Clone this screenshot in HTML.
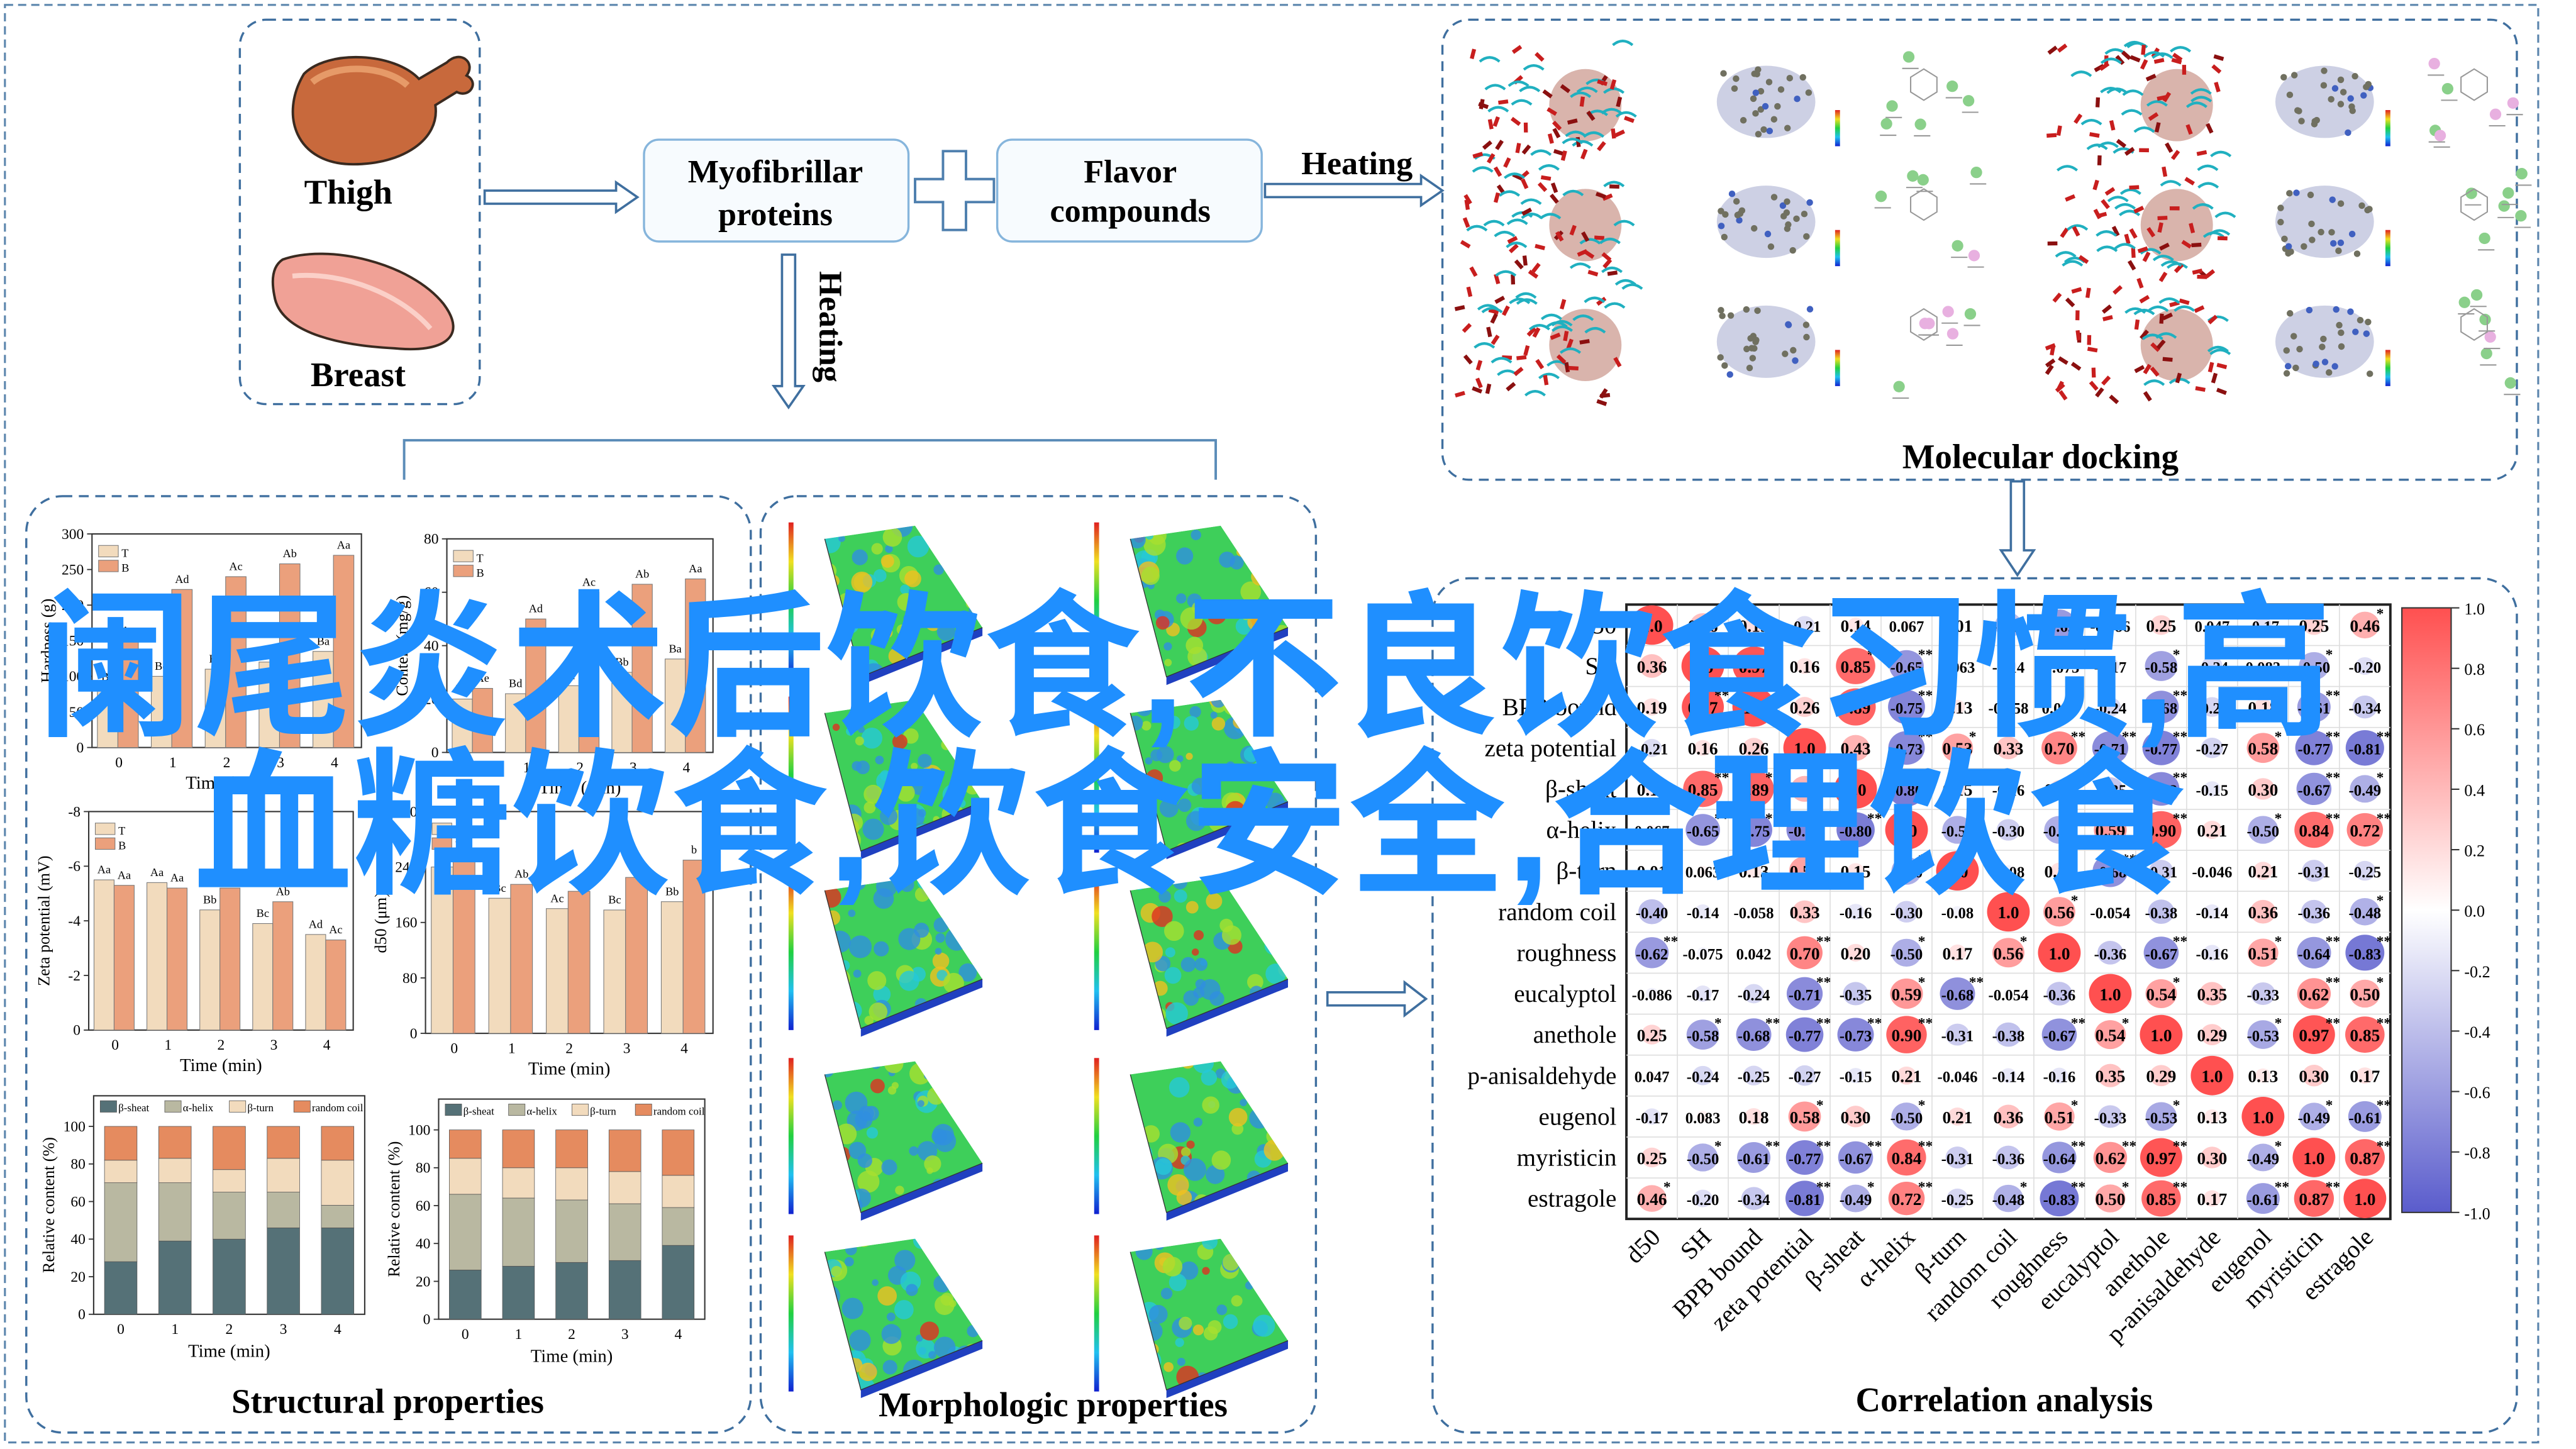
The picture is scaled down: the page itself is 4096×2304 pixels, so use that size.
<!DOCTYPE html>
<html><head><meta charset="utf-8"><style>
html,body{margin:0;padding:0;background:#fff;width:4096px;height:2304px;overflow:hidden}
svg{display:block}
text{font-family:"Liberation Serif",serif}
</style></head><body>
<svg id="s" xmlns="http://www.w3.org/2000/svg" width="4096" height="2304" viewBox="0 0 1568 882" preserveAspectRatio="none">
<defs>
<linearGradient id="cb" x1="0" y1="0" x2="0" y2="1"><stop offset="0" stop-color="#ff5050"/><stop offset="0.5" stop-color="#ffffff"/><stop offset="1" stop-color="#5a5ccc"/></linearGradient>
<linearGradient id="rb" x1="0" y1="0" x2="0" y2="1"><stop offset="0" stop-color="#e02020"/><stop offset="0.25" stop-color="#f0e020"/><stop offset="0.5" stop-color="#20d040"/><stop offset="0.75" stop-color="#20c0f0"/><stop offset="1" stop-color="#1020d0"/></linearGradient>
</defs>
<rect x="3" y="3" width="1542" height="875" fill="none" stroke="#5c86ad" stroke-width="1.2" stroke-dasharray="5,3"/>
<g fill="none" stroke="#3f6f9f" stroke-width="1.3" stroke-dasharray="6,4">
<rect x="146" y="12" width="146" height="234" rx="16"/>
<rect x="878" y="12" width="654" height="280" rx="16"/>
<rect x="16" y="302" width="441" height="570" rx="22"/>
<rect x="463" y="302" width="338" height="570" rx="22"/>
<rect x="872" y="352" width="660" height="520" rx="22"/>
</g>
<path d="M185 45 C200 30 240 32 255 48 L272 38 C280 30 290 38 284 46 C292 50 286 60 278 56 L265 64 C268 85 245 100 215 100 C180 100 170 70 185 45Z" fill="#c8693c" stroke="#3a2a20" stroke-width="1.5"/>
<path d="M190 50 C205 38 235 40 248 52" fill="none" stroke="#e69a68" stroke-width="4"/>
<text x="212" y="124" font-size="21" font-weight="bold" text-anchor="middle">Thigh</text>
<path d="M172 158 C200 148 250 160 270 185 C285 205 270 215 240 212 C200 210 170 200 167 180 C165 170 166 162 172 158Z" fill="#f0a196" stroke="#3a2a20" stroke-width="1.5"/>
<path d="M178 168 C210 165 245 180 262 200" fill="none" stroke="#fbd0c8" stroke-width="3"/>
<text x="218" y="235" font-size="21" font-weight="bold" text-anchor="middle">Breast</text>
<rect x="392" y="85" width="161" height="62" rx="9" fill="#f7fbfe" stroke="#86b5dc" stroke-width="1.3"/>
<text x="472" y="111" font-size="20" font-weight="bold" text-anchor="middle">Myofibrillar</text>
<text x="472" y="137" font-size="20" font-weight="bold" text-anchor="middle">proteins</text>
<path d="M574 92 h14 v17 h17 v14 h-17 v17 h-14 v-17 h-17 v-14 h17z" fill="#fff" stroke="#4e7fae" stroke-width="1.5"/>
<rect x="607" y="85" width="161" height="62" rx="9" fill="#f7fbfe" stroke="#86b5dc" stroke-width="1.3"/>
<text x="688" y="111" font-size="20" font-weight="bold" text-anchor="middle">Flavor</text>
<text x="688" y="135" font-size="20" font-weight="bold" text-anchor="middle">compounds</text>
<g fill="#fff" stroke="#3f6f9f" stroke-width="1.4">
<path d="M295 116 h80 v-5 l13 9 l-13 9 v-5 h-80z"/>
<path d="M770 112 h95 v-5 l13 9 l-13 9 v-5 h-95z"/>
<path d="M476 155 v80 h-5 l9 13 l9 -13 h-5 v-80z"/>
<path d="M1224 293 v42 h-6 l10 15 l10 -15 h-6 v-42z"/>
<path d="M808 604 h47 v-6 l13 10 l-13 10 v-6 h-47z"/>
</g>
<text x="826" y="106" font-size="20" font-weight="bold" text-anchor="middle">Heating</text>
<text x="0" y="0" font-size="20" font-weight="bold" transform="translate(499,165) rotate(90)">Heating</text>
<path d="M246 292 V268 H740 V292" fill="none" stroke="#5b8cb8" stroke-width="1.5"/>
<text x="1242" y="285" font-size="21" font-weight="bold" text-anchor="middle">Molecular docking</text>
<text x="236" y="860" font-size="21" font-weight="bold" text-anchor="middle">Structural properties</text>
<text x="641" y="862" font-size="21" font-weight="bold" text-anchor="middle">Morphologic properties</text>
<text x="1220" y="859" font-size="21" font-weight="bold" text-anchor="middle">Correlation analysis</text>
<rect x="1462" y="370" width="30" height="368" fill="url(#cb)" stroke="#333" stroke-width="0.8"/>
<g id="dyn"></g>
<text font-weight="bold" font-size="96" fill="#1f8fff" x="22" y="440" textLength="1398" lengthAdjust="spacingAndGlyphs" style="font-family:'Liberation Sans','Noto Sans CJK SC',sans-serif">阑尾炎术后饮食,不良饮食习惯,高</text>
<text font-weight="bold" font-size="96" fill="#1f8fff" x="118" y="536" textLength="1212" lengthAdjust="spacingAndGlyphs" style="font-family:'Liberation Sans','Noto Sans CJK SC',sans-serif">血糖饮食,饮食安全,合理饮食</text>
</svg>
<script>
(function(){
var NS="http://www.w3.org/2000/svg",G=document.getElementById("dyn");
function el(t,a,txt){var e=document.createElementNS(NS,t);for(var k in a)e.setAttribute(k,a[k]);if(txt!=null)e.textContent=txt;G.appendChild(e);return e;}
var seed=7;function rnd(){seed=(seed*16807)%2147483647;return seed/2147483647;}
for(var i=0;i<=10;i++){var v=1-i*0.2,y=370+i*36.8;el("line",{x1:1492,y1:y,x2:1497,y2:y,stroke:"#333","stroke-width":0.8});el("text",{x:1500,y:y+4,"font-size":10},(v<-0.001?"-":"")+Math.abs(v).toFixed(1));}
var L=["d50","SH","BPB bound","zeta potential","β-sheat","α-helix","β-turn","random coil","roughness","eucalyptol","anethole","p-anisaldehyde","eugenol","myristicin","estragole"];
var TP=[[1.0,0.36,0.19,-0.21,0.14,0.067,0.01],[0.36,1.0,0.97,0.16,0.85,-0.65,0.063],[0.19,0.97,1.0,0.26,0.89,-0.75,0.13],[-0.21,0.16,0.26,1.0,0.43,-0.73,0.53],[0.14,0.85,0.89,0.43,1.0,-0.80,0.15],[0.067,-0.65,-0.75,-0.73,-0.80,1.0,-0.50],[0.01,0.063,0.13,0.53,0.15,-0.50,1.0]];
var BT=[[-0.40,-0.14,-0.058,0.33,-0.16,-0.30,-0.080,1.0,0.56,-0.054,-0.38,-0.14,0.36,-0.36,-0.48],[-0.62,-0.075,0.042,0.70,0.20,-0.50,0.17,0.56,1.0,-0.36,-0.67,-0.16,0.51,-0.64,-0.83],[-0.086,-0.17,-0.24,-0.71,-0.35,0.59,-0.68,-0.054,-0.36,1.0,0.54,0.35,-0.33,0.62,0.50],[0.25,-0.58,-0.68,-0.77,-0.73,0.90,-0.31,-0.38,-0.67,0.54,1.0,0.29,-0.53,0.97,0.85],[0.047,-0.24,-0.25,-0.27,-0.15,0.21,-0.046,-0.14,-0.16,0.35,0.29,1.0,0.13,0.30,0.17],[-0.17,0.083,0.18,0.58,0.30,-0.50,0.21,0.36,0.51,-0.33,-0.53,0.13,1.0,-0.49,-0.61],[0.25,-0.50,-0.61,-0.77,-0.67,0.84,-0.31,-0.36,-0.64,0.62,0.97,0.30,-0.49,1.0,0.87],[0.46,-0.20,-0.34,-0.81,-0.49,0.72,-0.25,-0.48,-0.83,0.50,0.85,0.17,-0.61,0.87,1.0]];
var M=[];for(var r=0;r<15;r++){M[r]=[];for(var c=0;c<15;c++){var v;if(r>=7)v=BT[r-7][c];else if(c>=7)v=BT[c-7][r];else v=TP[r][c];M[r][c]=v;}}
var X0=990,Y0=368,CW=31,CH=24.93;
el("rect",{x:X0,y:Y0,width:CW*15,height:CH*15,fill:"#fff",stroke:"#222","stroke-width":1.5});
for(var i=1;i<15;i++){el("line",{x1:X0+i*CW,y1:Y0,x2:X0+i*CW,y2:Y0+15*CH,stroke:"#ddd","stroke-width":0.6});el("line",{x1:X0,y1:Y0+i*CH,x2:X0+15*CW,y2:Y0+i*CH,stroke:"#ddd","stroke-width":0.6});}
function col(v){var a=Math.abs(v);if(v>=0){return "rgb(255,"+Math.round(255-175*a)+","+Math.round(255-175*a)+")";}return "rgb("+Math.round(255-165*a)+","+Math.round(255-163*a)+","+Math.round(255-51*a)+")";}
function fmt(v){var a=Math.abs(v);if(a==1)return "1.0";var dec=(String(a).split(".")[1]||"").length>2?3:2;return (v<0?"-":"")+a.toFixed(dec);}
for(var r=0;r<15;r++){var cy=Y0+r*CH+CH/2;el("text",{x:X0-6,y:cy+5,"font-size":15,"text-anchor":"end"},L[r]);
 for(var c=0;c<15;c++){var v=M[r][c],cx=X0+c*CW+CW/2,a=Math.abs(v);
  if(a>0.03)el("ellipse",{cx:cx,cy:cy,rx:13*Math.sqrt(a),ry:12*Math.sqrt(a),fill:col(v)});
  var s=fmt(v);el("text",{x:cx,y:cy+4,"font-size":s.length>4?9.5:10.5,"font-weight":"bold","text-anchor":"middle"},s);
  if(a>=0.45&&r!=c)el("text",{x:cx+7,y:cy-4,"font-size":9,"font-weight":"bold"},a>=0.6?"**":"*");}}
for(var c=0;c<15;c++){var cx=X0+c*CW+CW/2+6;el("text",{x:0,y:0,"font-size":15,"text-anchor":"end",transform:"translate("+cx+",754) rotate(-45)"},L[c]);}
function axes(x0,y0,x1,y1,ticks,ylab){el("rect",{x:x0,y:y0,width:x1-x0,height:y1-y0,fill:"none",stroke:"#333","stroke-width":0.8});
 for(var i=0;i<ticks.length;i++){var y=y1-(y1-y0)*i/(ticks.length-1);el("line",{x1:x0-3,y1:y,x2:x0,y2:y,stroke:"#333","stroke-width":0.7});el("text",{x:x0-5,y:y+3,"font-size":9,"text-anchor":"end"},ticks[i]);}
 for(var g=0;g<5;g++){var cx=x0+(x1-x0)*(g+0.5)/5;el("text",{x:cx,y:y1+12,"font-size":9,"text-anchor":"middle"},g);}
 el("text",{x:(x0+x1)/2,y:y1+25,"font-size":11,"text-anchor":"middle"},"Time (min)");
 el("text",{x:0,y:0,"font-size":10,"text-anchor":"middle",transform:"translate("+(x0-24)+","+((y0+y1)/2)+") rotate(-90)"},ylab);}
function bars(x0,y0,x1,y1,max,T,B,ticks,ylab,lt,lb){axes(x0,y0,x1,y1,ticks,ylab);var gw=(x1-x0)/5;
 for(var g=0;g<5;g++){var bx=x0+g*gw+gw*0.1,bw=gw*0.38;var h1=(y1-y0)*T[g]/max,h2=(y1-y0)*B[g]/max;
  el("rect",{x:bx,y:y1-h1,width:bw,height:h1,fill:"#f2dbbd",stroke:"#777","stroke-width":0.4});
  el("rect",{x:bx+bw,y:y1-h2,width:bw,height:h2,fill:"#eba07c",stroke:"#777","stroke-width":0.4});
  el("text",{x:bx+bw/2,y:y1-h1-4,"font-size":7,"text-anchor":"middle"},lt[g]);el("text",{x:bx+bw*1.5,y:y1-h2-4,"font-size":7,"text-anchor":"middle"},lb[g]);}
 el("rect",{x:x0+4,y:y0+7,width:12,height:7,fill:"#f2dbbd",stroke:"#777","stroke-width":0.4});el("text",{x:x0+18,y:y0+14,"font-size":7},"T");
 el("rect",{x:x0+4,y:y0+16,width:12,height:7,fill:"#eba07c",stroke:"#777","stroke-width":0.4});el("text",{x:x0+18,y:y0+23,"font-size":7},"B");}
bars(56,325,220,455,300,[85,100,110,120,135],[150,222,240,258,270],["0","50","100","150","200","250","300"],"Hardness (g)",["Be","Bd","Bc","Bb","Ba"],["Ae","Ad","Ac","Ab","Aa"]);
bars(272,328,434,458,80,[20,22,25,30,35],[24,50,60,63,65],["0","20","40","60","80"],"Content (mg/g)",["Be","Bd","Bc","Bb","Ba"],["Ae","Ad","Ac","Ab","Aa"]);
bars(54,494,215,627,8,[5.5,5.4,4.4,3.9,3.5],[5.3,5.2,5.2,4.7,3.3],["0","-2","-4","-6","-8"],"Zeta potential (mV)",["Aa","Aa","Bb","Bc","Ad"],["Aa","Aa","Ab","Ab","Ac"]);
bars(259,494,434,629,320,[240,195,180,178,190],[250,215,205,225,250],["0","80","160","240","320"],"d50 (μm)",["B","Bc","Ac","Bc","Bb"],["Aa","Ab","Ac","Ab","b"]);
function stack(x0,y0,x1,y1,S){var ticks=["0","20","40","60","80","100"];var ys=y0+(y1-y0)*0.14;
 el("rect",{x:x0,y:y0,width:x1-x0,height:y1-y0,fill:"none",stroke:"#333","stroke-width":0.8});
 for(var i=0;i<6;i++){var y=y1-(y1-ys)*i/5;el("line",{x1:x0-3,y1:y,x2:x0,y2:y,stroke:"#333","stroke-width":0.7});el("text",{x:x0-5,y:y+3,"font-size":9,"text-anchor":"end"},ticks[i]);}
 var cols=["#557177","#b9b8a1","#f2dbbd","#e58b5f"],nm=["β-sheat","α-helix","β-turn","random coil"];
 for(var g=0;g<5;g++){var cx=x0+(x1-x0)*(g+0.5)/5,bw=(x1-x0)/5*0.6,acc=0;
  for(var k=0;k<4;k++){var v=k<3?S[k][g]:100-S[0][g]-S[1][g]-S[2][g];var h=(y1-ys)*v/100;el("rect",{x:cx-bw/2,y:y1-(y1-ys)*acc/100-h,width:bw,height:h,fill:cols[k],stroke:"#555","stroke-width":0.3});acc+=v;}
  el("text",{x:cx,y:y1+12,"font-size":9,"text-anchor":"middle"},g);}
 for(var k=0;k<4;k++){var lx=x0+4+k*(x1-x0)/4.2;el("rect",{x:lx,y:y0+3,width:10,height:7,fill:cols[k],stroke:"#555","stroke-width":0.3});el("text",{x:lx+11,y:y0+9.5,"font-size":6.5},nm[k]);}
 el("text",{x:(x0+x1)/2,y:y1+26,"font-size":11,"text-anchor":"middle"},"Time (min)");
 el("text",{x:0,y:0,"font-size":10,"text-anchor":"middle",transform:"translate("+(x0-24)+","+((y0+y1)/2)+") rotate(-90)"},"Relative content (%)");}
stack(57,667,222,800,[[28,39,40,46,46],[42,31,25,19,12],[12,13,12,18,24]]);
stack(267,669,429,803,[[26,28,30,31,39],[40,36,33,30,20],[19,16,17,17,17]]);
var rows=[314,420,528,640,748],colsx=[474,660];var pid=0;
rows.forEach(function(ry){colsx.forEach(function(cx){pid++;
 el("rect",{x:cx+6,y:ry+4,width:3,height:95,fill:"url(#rb)"});
 var px=cx+28,py=ry+6;var pts=[[px,py+8],[px+55,py],[px+96,py+62],[px+22,py+92]];
 var d="M"+pts.map(function(p){return p[0]+" "+p[1];}).join(" L")+"Z";
 var cp=document.createElementNS(NS,"clipPath");cp.setAttribute("id","c"+pid);var pp=document.createElementNS(NS,"path");pp.setAttribute("d",d);cp.appendChild(pp);G.appendChild(cp);
 var g=el("g",{"clip-path":"url(#c"+pid+")"});
 var b=document.createElementNS(NS,"path");b.setAttribute("d",d);b.setAttribute("fill","#3ecf5a");g.appendChild(b);
 for(var i=0;i<55;i++){var c=document.createElementNS(NS,"circle");var r=rnd();c.setAttribute("cx",px+rnd()*96);c.setAttribute("cy",py+rnd()*92);c.setAttribute("r",2+rnd()*5);
  c.setAttribute("fill",r<0.4?"#2f8fe0":r<0.62?"#26c8d8":r<0.85?"#a8e030":r<0.95?"#f0c020":"#e03020");c.setAttribute("opacity","0.8");g.appendChild(c);}
 el("path",{d:"M"+(px+22)+" "+(py+92)+" L"+(px+96)+" "+(py+62)+" L"+(px+96)+" "+(py+67)+" L"+(px+22)+" "+(py+97)+"Z",fill:"#2040c0"});
 el("path",{d:"M"+px+" "+(py+8)+" L"+(px+22)+" "+(py+92)+" L"+(px+96)+" "+(py+62),stroke:"#333","stroke-width":0.5,fill:"none"});
});});
[22,95,168].forEach(function(ry){[880,1240].forEach(function(bx){
 el("circle",{cx:bx+85,cy:ry+42,r:22,fill:"#b46a5a",opacity:0.5});
 for(var i=0;i<60;i++){var x=bx+10+rnd()*100,y=ry+5+rnd()*70;if(rnd()<0.65)el("rect",{x:x,y:y,width:6,height:2.4,fill:rnd()<0.7?"#c81e1e":"#8b1010",transform:"rotate("+(rnd()*180)+" "+x+" "+y+")"});else el("path",{d:"M"+x+" "+y+" q6 -5 12 0",stroke:"#20b0c0","stroke-width":1.6,fill:"none"});}
 var lx=bx+(bx==880?195:175);
 el("ellipse",{cx:lx,cy:ry+40,rx:30,ry:22,fill:"#b8bcd8",opacity:0.7});
 for(var i=0;i<25;i++){var x=lx-28+rnd()*56,y=ry+20+rnd()*40;el("circle",{cx:x,cy:y,r:2,fill:rnd()<0.7?"#707060":"#4060c0"});}
 var tx=bx+(bx==880?265:240);
 for(var i=0;i<6;i++){var x=tx+rnd()*60,y=ry+8+rnd()*60;el("circle",{cx:x,cy:y,r:3.5,fill:rnd()<0.6?"#8ad08a":"#e8b0e0"});el("line",{x1:x-4,y1:y+7,x2:x+6,y2:y+7,stroke:"#999","stroke-width":0.8});}
 el("path",{d:"M"+(tx+18)+" "+(ry+25)+" l8 -5 l8 5 v9 l-8 5 l-8 -5z",stroke:"#999","stroke-width":0.8,fill:"none"});
 el("rect",{x:tx-28,y:ry+45,width:3,height:22,fill:"url(#rb)"});
});});
})();
</script>
</body></html>
